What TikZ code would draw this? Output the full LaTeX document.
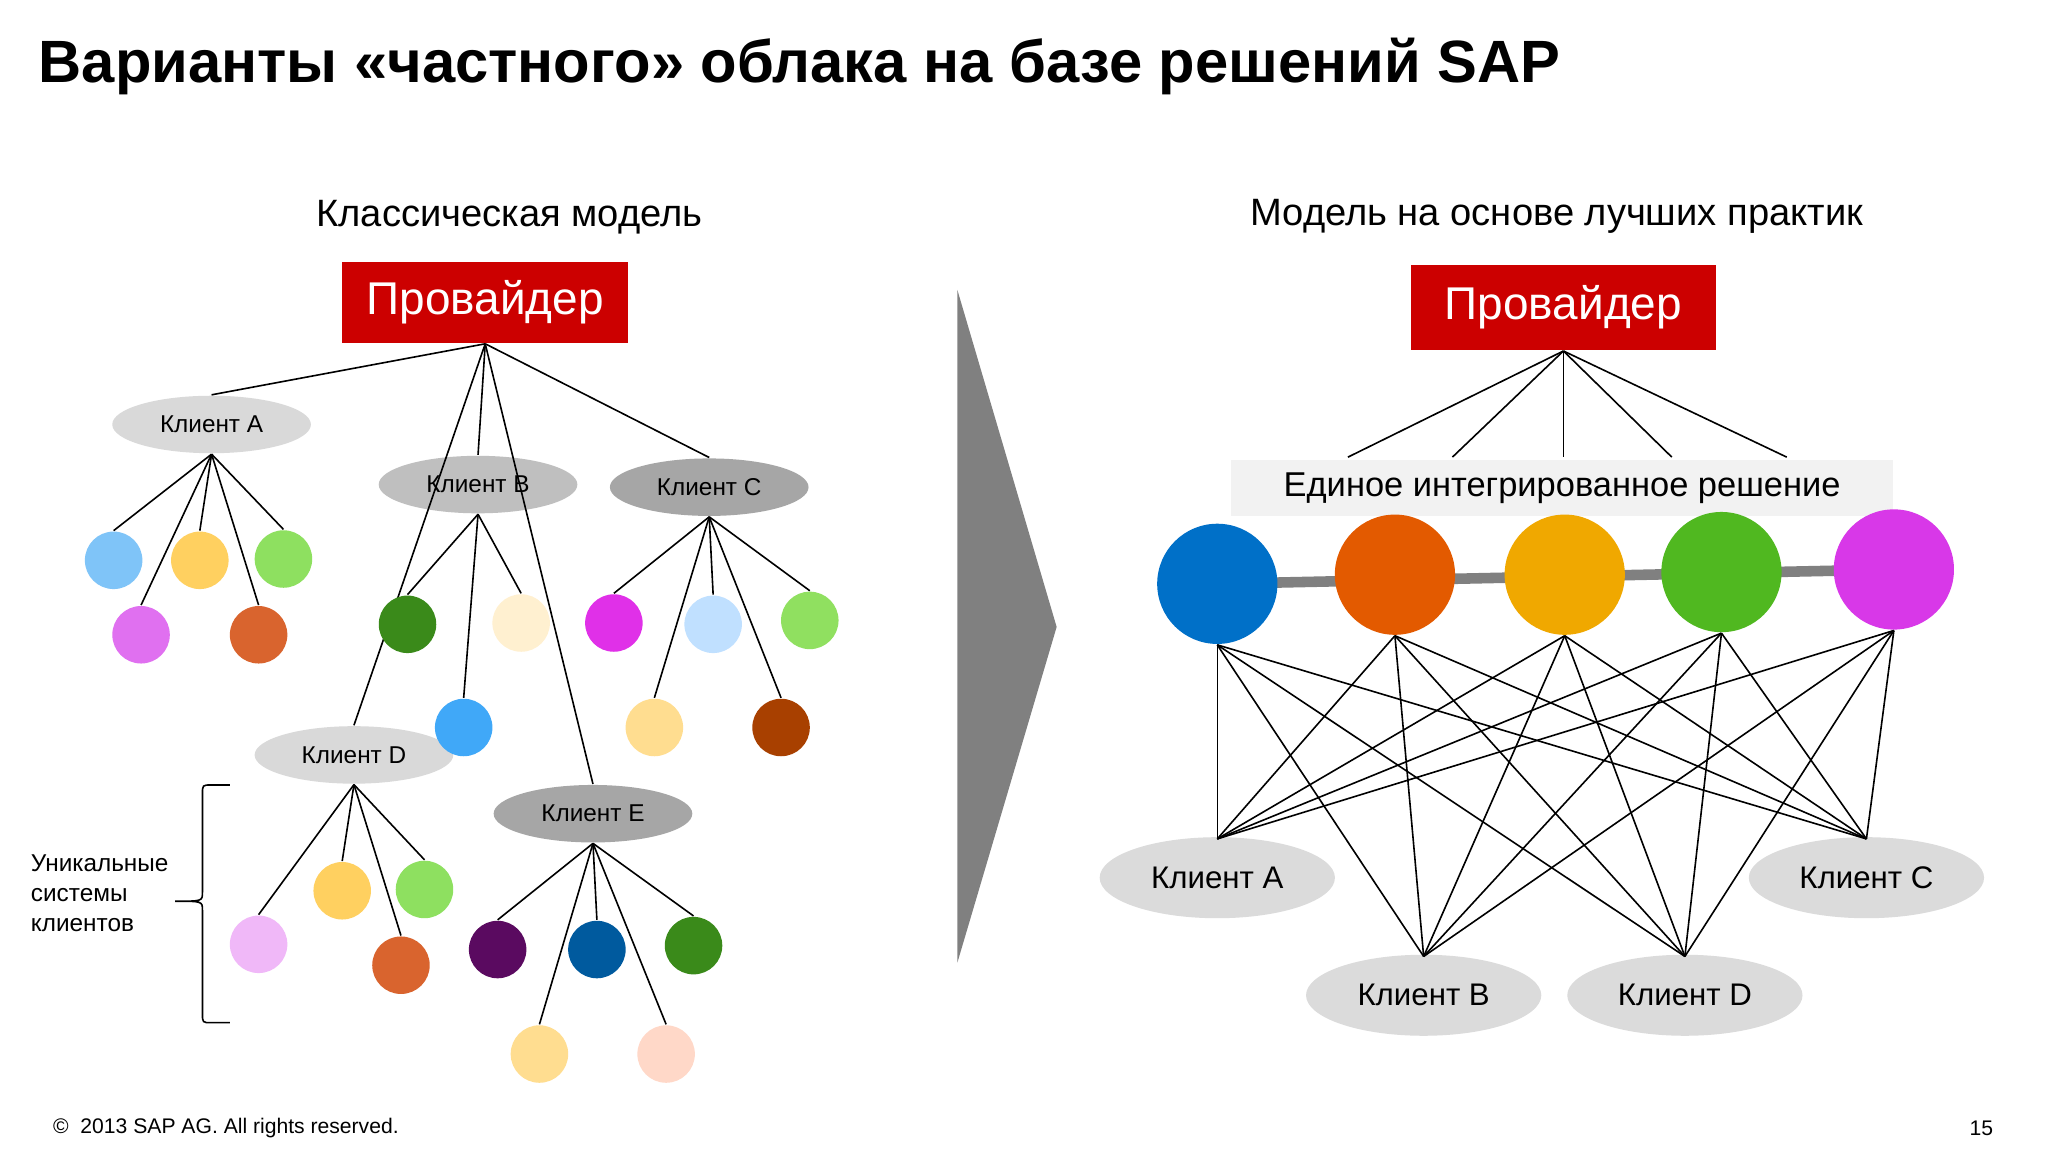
\documentclass[tikz,border=0pt]{standalone}
\usepackage{fontspec}
\setmainfont{Liberation Sans}
\definecolor{sapred}{HTML}{CC0000}
\usetikzlibrary{shapes.geometric}
\tikzset{
 prov/.style={fill=sapred,text=white,font=\fontsize{10}{12}\selectfont,inner sep=0,minimum height=0.62cm},
 cl/.style={ellipse,minimum width=1.52cm,minimum height=0.44cm,inner sep=0,font=\fontsize{5.3}{6}\selectfont},
 clr/.style={ellipse,fill=black!14,minimum width=1.8cm,minimum height=0.62cm,inner sep=0,font=\fontsize{6.8}{8}\selectfont},
 dot/.style={circle,minimum size=0.44cm,inner sep=0,fill=dc},
 bigdot/.style={circle,minimum size=0.92cm,inner sep=0,fill=dc},
 ln/.style={draw=black,line width=0.35pt},
}
\begin{document}
\begin{tikzpicture}[x=0.01cm,y=-0.01cm]
\useasboundingbox[fill=white] (0,0) rectangle (1568,882);
\node[anchor=west,inner sep=0,font=\bfseries\fontsize{13}{15}\selectfont] (title) at (29,51) {Варианты «частного» облака на базе решений SAP};
\node[font=\fontsize{8.3}{10}\selectfont] (t1) at (390,166) {Классическая модель};
\node[font=\fontsize{8.3}{10}\selectfont] (t2) at (1192,166) {Модель на основе лучших практик};
% left
\node[prov,minimum width=2.19cm] (P1) at (371.5,231.5) {Провайдер};
\node[cl,fill=black!15] (A) at (162,325) {Клиент A};
\node[cl,fill=black!25] (B) at (366,371) {Клиент B};
\node[cl,fill=black!35] (C) at (543,373) {Клиент C};
\node[cl,fill=black!15] (D) at (271,578) {Клиент D};
\node[cl,fill=black!35] (E) at (454,623) {Клиент E};
\foreach \n in {A,B,C,D,E} \draw[ln] (P1.south) -- (\n.north);
\foreach \p/\n/\x/\y/\c in {A/a1/87/429/7FC4F8,A/a2/153/429/FFD060,A/a3/217/428/8EE060,A/a4/108/486/E070F0,A/a5/198/486/D9642E,
 B/b1/312/478/3A8A1A,B/b2/399/477/FFF0D0,B/b3/355/557/40A8F8,
 C/c1/470/477/E030E8,C/c2/546/478/C0E0FF,C/c3/620/475/90E060,C/c4/501/557/FFDD90,C/c5/598/557/A84000,
 D/d1/198/723/F0B8F8,D/d2/262/682/FFD060,D/d3/325/681/8EE060,D/d4/307/739/D9642E,
 E/e1/381/727/5A0A60,E/e2/457/727/005A9E,E/e3/531/724/3A8A1A,E/e4/413/807/FFDD90,E/e5/510/807/FFD8C8}
 {\definecolor{dc}{HTML}{\c}\node[dot] (\n) at (\x,\y) {}; \draw[ln] (\p.south) -- (\n.north);}
% brace
\draw[ln] (176,601) -- (162,601) .. controls (155,601) .. (155,608) -- (155,683) .. controls (155,690) .. (134,690) .. controls (155,690) .. (155,697) -- (155,776) .. controls (155,783) .. (162,783) -- (176,783);
\node[anchor=west,inner sep=0,align=left,font=\fontsize{5.3}{6.6}\selectfont] (U) at (23,684) {Уникальные\\системы\\клиентов};
% chevron
\fill[black!50] (733,222) -- (809,480) -- (733,737) -- cycle;
% right
\node[prov,minimum width=2.34cm,minimum height=0.65cm] (P2) at (1197,235.5) {Провайдер};
\node[fill=black!5,minimum width=5.06cm,minimum height=0.43cm,inner sep=0,font=\fontsize{7.5}{9}\selectfont] (S) at (1196,373.5) {Единое интегрированное решение};
\foreach \x in {1032,1112,1197,1280,1368} \draw[ln] (P2.south) -- (\x,350);
\draw[black!50,line width=2.3pt] (932,447) -- (1450,436);
\foreach \n/\x/\y/\c in {s1/932/447/0070C8,s2/1068/440/E35A00,s3/1198/440/F0A800,s4/1318/438/50B820,s5/1450/436/D838E8}
 {\definecolor{dc}{HTML}{\c}\node[bigdot] (\n) at (\x,\y) {};}
\node[clr] (RA) at (932,672) {Клиент A};
\node[clr] (RB) at (1090,762) {Клиент B};
\node[clr] (RC) at (1429,672) {Клиент C};
\node[clr] (RD) at (1290,762) {Клиент D};
\foreach \s in {s1,s2,s3,s4,s5} \foreach \r in {RA,RB,RC,RD} \draw[ln] (\s.south) -- ([yshift=-0.02cm]\r.north);
% footer
\node[anchor=west,inner sep=0,font=\fontsize{4.6}{5}\selectfont] (copy) at (40,864) {©\ \ 2013 SAP AG. All rights reserved.};
\node[font=\fontsize{4.6}{5}\selectfont] (num) at (1517,864) {15};
\end{tikzpicture}
\end{document}
